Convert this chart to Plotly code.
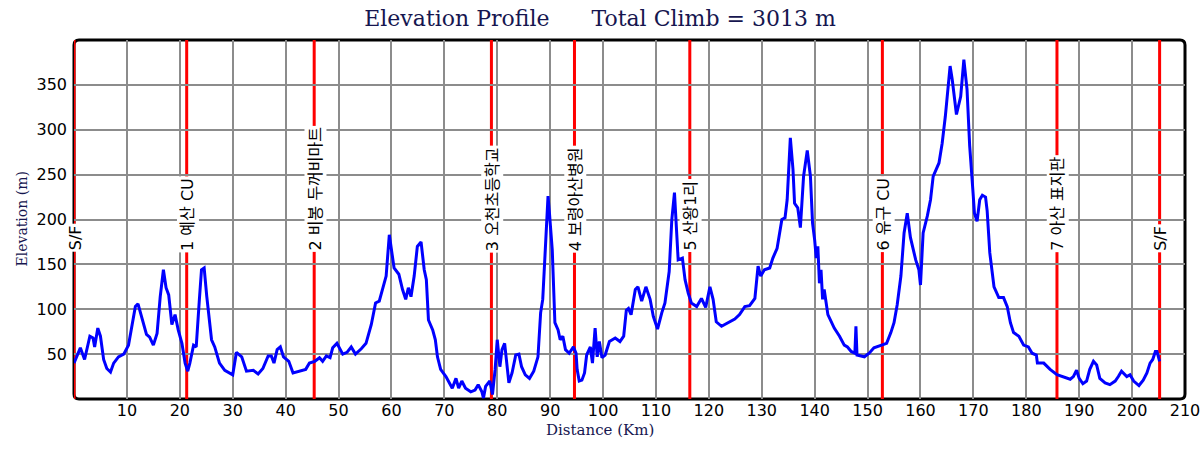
import plotly.graph_objects as go

# elevation profile (km, m)
distance_km = [
    0.0, 0.6, 1.2, 2.0, 3.0, 3.6, 3.9, 4.5, 5.0, 5.6, 6.2, 6.9, 7.5, 8.4, 9.4,
    10.3, 11.0, 11.6, 12.1, 12.7, 13.7, 14.3, 15.0, 15.7, 16.3, 16.9, 17.4, 17.9,
    18.5, 19.1, 19.7, 20.4, 21.0, 21.5, 21.9, 22.6, 23.1, 23.7, 24.1, 24.6, 25.1,
    26.0, 26.6, 27.5, 28.5, 30.0, 30.7, 31.7, 32.6, 33.9, 34.8, 35.7, 36.7, 37.3,
    37.8, 38.4, 39.0, 39.6, 40.6, 41.4, 42.7, 43.8, 44.5, 45.5, 46.4, 47.0, 47.7,
    48.4, 48.9, 49.7, 50.8, 51.6, 52.4, 53.2, 54.3, 55.2, 56.2, 57.0, 57.7, 58.3,
    59.0, 59.6, 60.1, 60.5, 61.4, 62.1, 62.7, 63.2, 63.7, 64.3, 64.9, 65.6, 66.2,
    66.6, 67.0, 67.8, 68.3, 68.7, 69.3, 70.3, 71.5, 72.2, 72.7, 73.3, 74.0, 75.0,
    75.8, 76.4, 77.1, 77.4, 77.8, 78.6, 79.1, 79.6, 80.0, 80.5, 80.9, 81.4, 82.2,
    82.8, 83.5, 84.1, 84.6, 85.3, 86.1, 86.9, 87.7, 88.2, 88.6, 89.1, 89.6, 89.9,
    90.4, 90.9, 91.5, 91.9, 92.4, 92.9, 93.6, 94.4, 94.9, 95.1, 95.5, 96.0, 96.5,
    96.9, 97.6, 98.0, 98.5, 98.9, 99.3, 99.8, 100.4, 101.2, 102.3, 103.2, 103.9,
    104.4, 104.8, 105.3, 106.1, 106.6, 107.3, 108.1, 108.9, 109.5, 110.3, 111.1,
    111.7, 112.5, 113.0, 113.5, 113.9, 114.2, 115.0, 115.5, 116.1, 116.7, 117.7,
    118.6, 119.4, 120.2, 120.8, 121.4, 122.4, 123.6, 124.9, 125.8, 126.8, 127.7,
    128.7, 129.3, 129.8, 130.5, 131.5, 132.1, 132.9, 133.8, 134.4, 134.8, 135.4,
    135.9, 136.2, 136.8, 137.3, 137.9, 138.6, 139.2, 139.6, 140.0, 140.3, 140.6,
    140.9, 141.2, 141.5, 141.8, 142.5, 143.7, 144.7, 145.6, 146.2, 146.9, 147.6,
    147.8, 148.0, 149.4, 150.3, 151.2, 152.5, 153.6, 154.4, 155.0, 155.6, 156.3,
    156.9, 157.5, 158.1, 159.1, 159.7, 160.0, 160.5, 161.3, 161.9, 162.4, 163.5,
    164.1, 164.7, 165.6, 166.0, 166.8, 167.6, 168.2, 168.8, 169.3, 169.9, 170.2,
    170.7, 171.2, 171.7, 172.3, 172.6, 173.1, 173.9, 174.8, 175.7, 176.4, 177.0,
    177.6, 178.6, 179.5, 180.4, 181.1, 181.9, 182.1, 183.3, 184.5, 185.8, 187.0,
    188.3, 188.9, 189.5, 190.0, 190.7, 191.4, 192.0, 192.7, 193.3, 193.9, 194.9,
    195.8, 196.8, 197.4, 198.0, 199.0, 199.6, 200.3, 201.3, 202.1, 202.8, 203.4,
    203.9, 204.4, 204.7, 205.2,
]
elevation_m = [
    40, 48, 57, 44, 70, 68, 58, 79, 70, 44, 34, 30, 40, 47, 50,
    60, 81, 103, 106, 92, 72, 69, 60, 73, 114, 144, 124, 116,
    83, 94, 77, 62, 40, 31, 40, 60, 58, 111, 144, 146, 114,
    66, 58, 40, 32, 27, 52, 47, 31, 32, 28, 34, 48, 48,
    40, 55, 58, 47, 42, 29, 31, 33, 40, 42, 46, 42, 48,
    46, 57, 62, 50, 52, 58, 50, 56, 62, 83, 107, 109, 122,
    137, 183, 163, 146, 139, 122, 111, 124, 114, 137, 170, 175, 144,
    133, 88, 77, 66, 47, 33, 25, 12, 23, 12, 20, 12, 8,
    10, 16, 8, 1, 14, 20, 5, 33, 66, 36, 55, 62, 18,
    29, 49, 50, 36, 27, 23, 31, 47, 96, 111, 166, 226, 205,
    166, 85, 77, 66, 70, 55, 51, 58, 51, 33, 20, 21, 29,
    49, 58, 40, 79, 47, 64, 46, 49, 64, 68, 64, 70,
    99, 101, 94, 122, 125, 109, 125, 111, 92, 78, 96,
    107, 142, 200, 230, 185, 155, 157, 133, 118, 107, 103,
    112, 102, 125, 111, 86, 81, 85, 89, 94, 103, 104,
    112, 148, 137, 144, 146, 157, 168, 200, 202, 222, 291,
    256, 218, 213, 191, 248, 277, 248, 196, 177, 157, 170,
    129, 144, 111, 122, 94, 79, 70, 60, 58, 53, 51,
    81, 49, 47, 51, 57, 60, 62, 74, 85, 105, 137,
    185, 207, 180, 155, 144, 127, 185, 204, 222, 248, 263,
    285, 315, 371, 356, 317, 337, 378, 345, 282, 233, 207,
    198, 222, 227, 225, 210, 163, 125, 113, 113, 103, 85,
    74, 70, 60, 58, 51, 49, 40, 40, 33, 27, 25,
    22, 25, 32, 23, 17, 20, 33, 42, 38, 23, 18,
    16, 20, 25, 31, 25, 27, 20, 15, 21, 29, 40,
    44, 53, 53, 42,
]

checkpoint_km = [0.0, 21.3, 45.4, 78.9, 94.6, 116.4, 152.8, 185.8, 205.2]
checkpoint_names = [
    "S/F", "1 예산 CU", "2 비봉 두꺼비마트", "3 오천초등학교", "4 보령아산병원",
    "5 산왕1리", "6 유구 CU", "7 아산 표지판", "S/F",
]

x_ticks = list(range(10, 211, 10))
y_ticks = list(range(50, 351, 50))

NAVY = "#16164f"
SERIF = "DejaVu Serif, Liberation Serif, serif"
SANS = "DejaVu Sans, Noto Sans CJK KR, sans-serif"

fig = go.Figure(
    go.Scatter(
        x=distance_km,
        y=elevation_m,
        mode="lines",
        line=dict(color="#0000ff", width=3),
        hovertemplate="%{x:.1f} km<br>%{y} m<extra></extra>",
    )
)

# rounded frame round the plot area (paper units; radius ~5px)
rx, ry = 5 / 1111, 5 / 359
frame = (
    f"M {rx},0 L {1 - rx},0 Q 1,0 1,{ry} L 1,{1 - ry} Q 1,1 {1 - rx},1 "
    f"L {rx},1 Q 0,1 0,{1 - ry} L 0,{ry} Q 0,0 {rx},0 Z"
)
fig.add_shape(type="path", path=frame, xref="paper", yref="paper",
              line=dict(color="black", width=3), layer="between")

for km, name in zip(checkpoint_km, checkpoint_names):
    fig.add_shape(type="line", x0=km, x1=km, y0=0, y1=1, xref="x", yref="paper",
                  line=dict(color="#ff0000", width=3), layer="between")
    fig.add_annotation(
        x=km, y=163, xref="x", yref="y", text=name, textangle=-90,
        showarrow=False, xanchor="center", yanchor="bottom", xshift=1,
        bgcolor="white", borderpad=1,
        font=dict(family=SANS, size=16, color="black"),
    )

# axis titles as annotations so they sit where the original has them
fig.add_annotation(
    text="Distance (Km)", xref="paper", yref="paper", x=0.4734, y=-0.0864,
    xanchor="center", yanchor="middle", showarrow=False,
    font=dict(family=SERIF, size=15, color=NAVY),
)
fig.add_annotation(
    text="Elevation (m)", xref="paper", yref="paper", x=-0.0477, y=0.5,
    xanchor="center", yanchor="middle", showarrow=False, textangle=-90,
    font=dict(family=SERIF, size=14, color=NAVY),
)

sp = "\u00a0" * 6
fig.update_layout(
    width=1200,
    height=450,
    title=dict(
        text=f"Elevation Profile{sp}Total Climb = 3013 m",
        x=0.5, xanchor="center", xref="container",
        y=1 - 18 / 450, yanchor="middle", yref="container",
        font=dict(family=SERIF, size=22, color=NAVY),
    ),
    margin=dict(l=74, r=15, t=40, b=51),
    paper_bgcolor="white",
    plot_bgcolor="white",
    showlegend=False,
    xaxis=dict(
        range=[0, 210], tickvals=x_ticks, showgrid=True, automargin=False,
        gridcolor="#8c8c8c", gridwidth=1.5, zeroline=False, showline=False,
        ticks="", ticklabeloverflow="allow",
        tickfont=dict(family=SANS, size=16, color="black"),
    ),
    yaxis=dict(
        range=[0, 400], tickvals=y_ticks, showgrid=True, automargin=False,
        gridcolor="#8c8c8c", gridwidth=1.5, zeroline=False, showline=False,
        ticks="", ticklabelstandoff=6,
        tickfont=dict(family=SANS, size=16, color="black"),
    ),
)

# drop the default 8px page margin so the figure fills the window exactly
fig.write_html(
    "out.html",
    config={"displayModeBar": False},
    post_script="document.body.style.margin = '0';",
)
